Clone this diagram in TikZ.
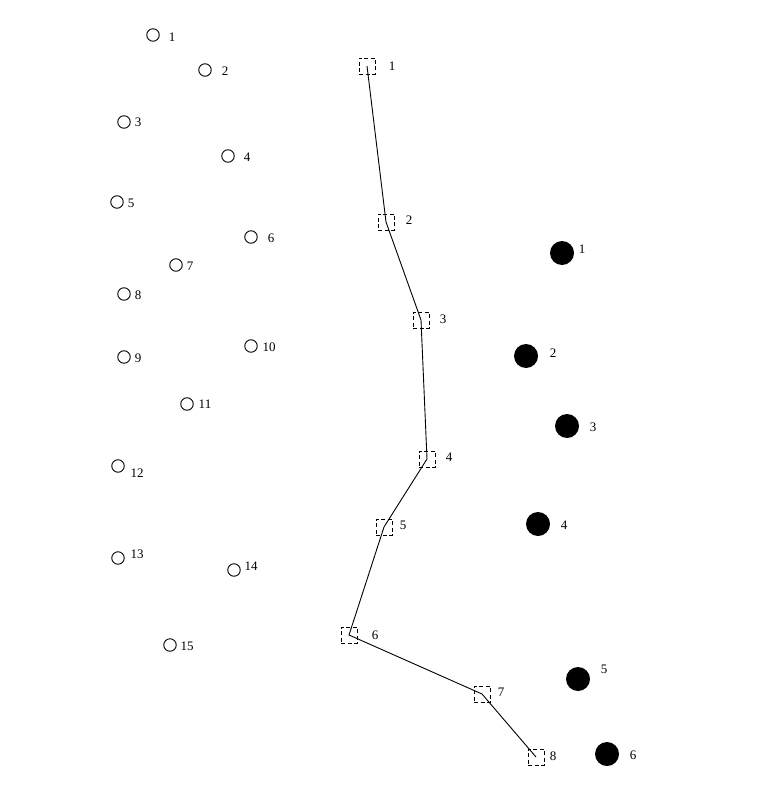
\documentclass[tikz,border=0pt]{standalone}
\usepackage{fontspec}
\setmainfont{Liberation Serif}
\usetikzlibrary{positioning}
\tikzset{
    opensite/.style={circle, draw, line width=0.9pt, minimum size=12.5pt, inner sep=0pt},
    hubdot/.style={circle, fill=black, minimum size=24pt, inner sep=0pt},
    waybox/.style={draw, line width=0.8pt, dash pattern=on 4pt off 2.5pt, minimum size=16pt, inner sep=0pt},
    tag/.style={font=\fontsize{13}{15}\selectfont, inner sep=0pt}
}

\begin{document}
\begin{tikzpicture}[x=1pt, y=-1pt]
\useasboundingbox (0,0) rectangle (776,802);
% open sites
\foreach \n/\x/\y/\lx/\ly in {1/153/35/172/37, 2/205/70/225/71, 3/124/122/138/122,
    4/228/156/247/157, 5/117/202/131/203, 6/251/237/271/238, 7/176/265/190/266,
    8/124/294/138/295, 9/124/357/138/358, 10/251/346/269/347, 11/187/404/205/404,
    12/118/466/137/473, 13/118/558/137/554, 14/234/570/251/566, 15/170/645/187/646}{
    \node[opensite] (s\n) at (\x,\y) {};
    \node[tag] (ts\n) at (\lx,\ly) {\n};
}
% filled hubs
\foreach \n/\x/\y/\lx/\ly in {1/562/253/582/249, 2/526/356/553/353, 3/567/426/593/427,
    4/538/524/564/525, 5/578/679/604/669, 6/607/754/633/755}{
    \node[hubdot] (h\n) at (\x,\y) {};
    \node[tag] (th\n) at (\lx,\ly) {\n};
}
% route boxes
\foreach \n/\x/\y/\lx/\ly in {1/367/66/392/66, 2/386/222/409/220, 3/421/320/443/319,
    4/427/459/449/457, 5/384/527/403/525, 6/349/635/375/635, 7/482/694/501/692,
    8/536/757/553/756}{
    \node[waybox] (w\n) at (\x,\y) {};
    \node[tag] (tw\n) at (\lx,\ly) {\n};
}
\draw[line width=0.9pt] (w1.center) \foreach \i in {2,...,8}{ -- (w\i.center)};
\end{tikzpicture}
\end{document}
